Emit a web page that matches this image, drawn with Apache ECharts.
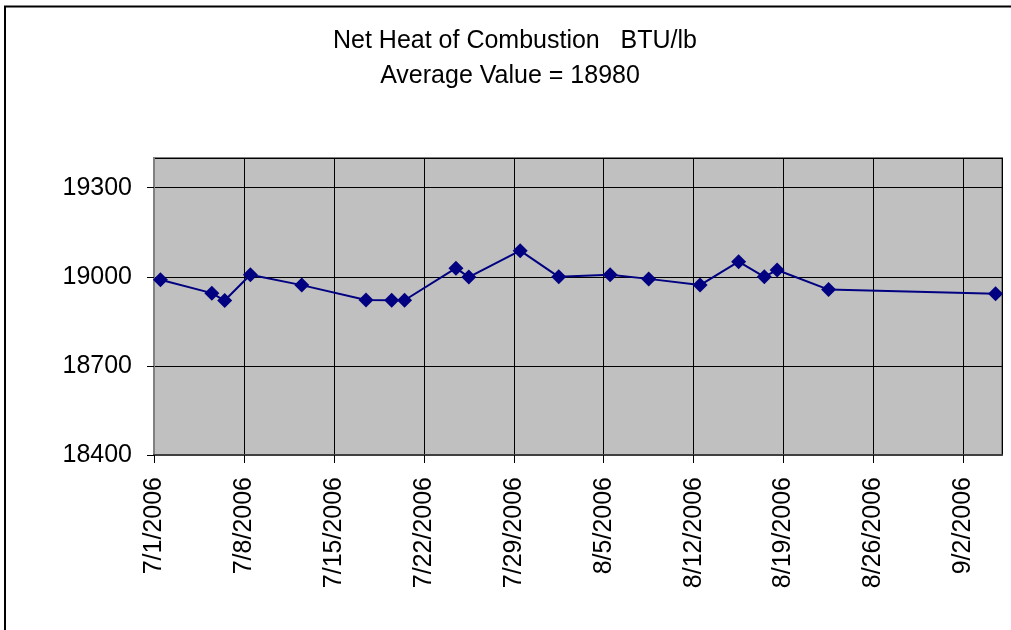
<!DOCTYPE html>
<html>
<head>
<meta charset="utf-8">
<title>Net Heat of Combustion</title>
<script src="https://cdn.jsdelivr.net/npm/echarts@6/dist/echarts.min.js"></script>
<style>
  html, body { margin: 0; padding: 0; background: #fff; }
  #chart { width: 1011px; height: 630px; }
</style>
</head>
<body>
<div id="chart"></div>
<script>
// Sample dates and measured net heat of combustion (BTU/lb)
const sampleDates = [
  '2006-07-01', '2006-07-05', '2006-07-06', '2006-07-08', '2006-07-12',
  '2006-07-17', '2006-07-19', '2006-07-20', '2006-07-24', '2006-07-25',
  '2006-07-29', '2006-08-01', '2006-08-05', '2006-08-08', '2006-08-12',
  '2006-08-15', '2006-08-17', '2006-08-18', '2006-08-22', '2006-09-04'
];
const heatValues = [
  18990, 18945, 18920, 19007, 18972,
  18922, 18921, 18921, 19029, 18999,
  19088, 19000, 19007, 18993, 18972,
  19051, 19000, 19023, 18957, 18943
];
const titleLines = ['Net Heat of Combustion   BTU/lb', 'Average Value = 18980'];

// Date axis: one slot per day, starting 7/1/2006, points sit mid-slot
const axisStart = Date.UTC(2006, 6, 1);
const DAY = 86400000;
const axisDays = 66;
const tickStep = 7;

function dayIndex(s) {
  const p = s.split('-').map(Number);
  return (Date.UTC(p[0], p[1] - 1, p[2]) - axisStart) / DAY;
}
function dayLabel(v) {
  const d = new Date(axisStart + v * DAY);
  return (d.getUTCMonth() + 1) + '/' + d.getUTCDate() + '/' + d.getUTCFullYear();
}

const seriesData = sampleDates.map((s, i) => [dayIndex(s) + 0.5, heatValues[i]]);

const FONT = '"Liberation Sans", Arial, sans-serif';
const chart = echarts.init(document.getElementById('chart'), null, { renderer: 'canvas' });

chart.setOption({
  animation: false,
  backgroundColor: '#ffffff',
  graphic: [
    {
      type: 'rect',
      shape: { x: 5, y: 6.5, width: 1100, height: 700 },
      style: { fill: 'none', stroke: '#000', lineWidth: 2 },
      silent: true
    },
    {
      type: 'text', x: 515, y: 41,
      style: { text: titleLines[0], fill: '#000', font: '25px ' + FONT, textAlign: 'center', textVerticalAlign: 'middle' }
    },
    {
      type: 'text', x: 510, y: 76,
      style: { text: titleLines[1], fill: '#000', font: '25px ' + FONT, textAlign: 'center', textVerticalAlign: 'middle' }
    }
  ],
  grid: {
    left: 154, top: 158, right: 9, bottom: 175,
    show: true,
    backgroundColor: '#c0c0c0',
    borderColor: '#808080',
    borderWidth: 2
  },
  xAxis: {
    type: 'value',
    min: 0,
    max: axisDays,
    interval: tickStep,
    axisLine: { show: true, onZero: false, lineStyle: { color: '#404040', width: 2 } },
    axisTick: { show: true, length: 8, lineStyle: { color: '#000', width: 1 } },
    axisLabel: {
      rotate: 90,
      margin: 22,
      color: '#000',
      fontFamily: FONT,
      fontSize: 25,
      showMaxLabel: false,
      formatter: v => (v % tickStep === 0 ? dayLabel(v) : '')
    },
    splitLine: { show: true, lineStyle: { color: '#000', width: 1 } }
  },
  yAxis: {
    type: 'value',
    min: 18400,
    max: 19400,
    interval: 300,
    axisLine: { show: true, lineStyle: { color: '#808080', width: 2 } },
    axisTick: { show: true, length: 7, lineStyle: { color: '#000', width: 1 } },
    axisLabel: {
      margin: 22,
      color: '#000',
      fontFamily: FONT,
      fontSize: 25,
      showMaxLabel: false,
      formatter: v => String(v)
    },
    splitLine: { show: true, lineStyle: { color: '#000', width: 1 } }
  },
  series: [{
    type: 'line',
    data: seriesData,
    symbol: 'diamond',
    symbolSize: [15, 15],
    showAllSymbol: true,
    lineStyle: { color: '#000080', width: 2 },
    itemStyle: { color: '#000080' }
  }]
});
</script>
</body>
</html>
